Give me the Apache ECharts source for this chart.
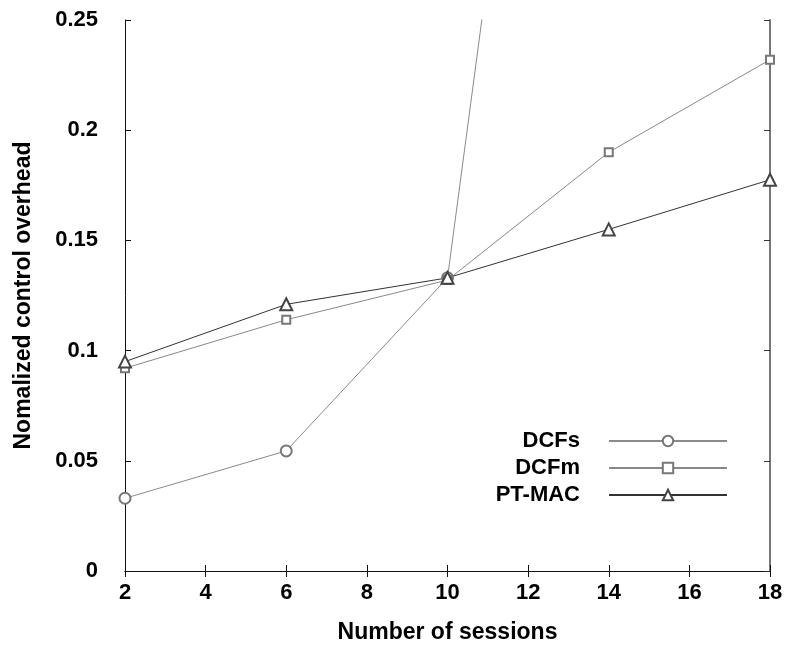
<!DOCTYPE html>
<html>
<head>
<meta charset="utf-8">
<script src="https://cdn.jsdelivr.net/npm/echarts@6/dist/echarts.min.js"></script>
<style>
html,body{margin:0;padding:0;background:#fff;}
#chart{width:790px;height:649px;}
</style>
</head>
<body>
<div id="chart"></div>
<script>
var sessions = [2, 6, 10, 14, 18];
var dcfs = [0.033, 0.0545, 0.133, 0.683, 1.23];
var dcfm = [0.092, 0.114, 0.132, 0.190, 0.232];
var ptmac = [0.095, 0.121, 0.133, 0.155, 0.1775];
var seriesNames = ['DCFs', 'DCFm', 'PT-MAC'];
var xTicks = [2, 4, 6, 8, 10, 12, 14, 16, 18];
var yTicks = [0, 0.05, 0.1, 0.15, 0.2, 0.25];

function pairs(ys) { return sessions.map(function (x, i) { return [x, ys[i]]; }); }

var font = 'Liberation Sans, Arial, Helvetica, sans-serif';
var chart = echarts.init(document.getElementById('chart'));
chart.setOption({
  animation: false,
  backgroundColor: '#fff',
  grid: { left: 125, right: 20, top: 20, bottom: 78, show: false },
  legend: {
    orient: 'vertical',
    align: 'right',
    right: 57,
    top: 425,
    itemWidth: 118,
    itemHeight: 13,
    itemGap: 5,
    data: seriesNames,
    textStyle: { fontFamily: font, fontWeight: 'bold', fontSize: 22, color: '#000', padding: [0, 24, 0, 0] }
  },
  xAxis: [{
    type: 'value', min: xTicks[0], max: xTicks[xTicks.length - 1], interval: 2,
    name: 'Number of sessions', nameLocation: 'middle', nameGap: 50,
    nameTextStyle: { fontFamily: font, fontWeight: 'bold', fontSize: 23, color: '#000' },
    axisLine: { show: true, lineStyle: { color: '#111', width: 1 } },
    axisTick: { show: true, inside: true, length: 6, lineStyle: { color: '#111' } },
    axisLabel: { fontFamily: font, fontWeight: 'bold', fontSize: 22, color: '#000', margin: 11 },
    splitLine: { show: false }
  }, {
    type: 'value', position: 'top', min: xTicks[0], max: xTicks[xTicks.length - 1], interval: 2,
    axisLine: { show: true, lineStyle: { color: '#111', width: 1 } },
    axisTick: { show: true, inside: true, length: 6, lineStyle: { color: '#111' } },
    axisLabel: { show: false }, splitLine: { show: false }
  }],
  yAxis: [{
    type: 'value', min: yTicks[0], max: yTicks[yTicks.length - 1], interval: 0.05,
    name: 'Nomalized control overhead', nameLocation: 'middle', nameGap: 90,
    nameTextStyle: { fontFamily: font, fontWeight: 'bold', fontSize: 23, color: '#000' },
    axisLine: { show: true, lineStyle: { color: '#111', width: 1 } },
    axisTick: { show: true, inside: true, length: 6, lineStyle: { color: '#111' } },
    axisLabel: { fontFamily: font, fontWeight: 'bold', fontSize: 22, color: '#000', margin: 27,
      formatter: function (v) { return String(+v.toFixed(2)); } },
    splitLine: { show: false }
  }, {
    type: 'value', position: 'right', min: yTicks[0], max: yTicks[yTicks.length - 1], interval: 0.05,
    axisLine: { show: true, lineStyle: { color: '#777', width: 2 } },
    axisTick: { show: true, inside: true, length: 6, lineStyle: { color: '#333' } },
    axisLabel: { show: false }, splitLine: { show: false }
  }],
  series: [{
    name: 'DCFs', type: 'line', data: pairs(dcfs), clip: true,
    symbol: 'emptyCircle', symbolSize: 11,
    lineStyle: { color: '#8a8a8a', width: 1 },
    itemStyle: { color: '#777', borderColor: '#777', borderWidth: 1 }
  }, {
    name: 'DCFm', type: 'line', data: pairs(dcfm), clip: true,
    symbol: 'emptyRect', symbolSize: 8,
    lineStyle: { color: '#888', width: 1 },
    itemStyle: { color: '#777', borderColor: '#777', borderWidth: 1 }
  }, {
    name: 'PT-MAC', type: 'line', data: pairs(ptmac), clip: true,
    symbol: 'emptyTriangle', symbolSize: 12,
    lineStyle: { color: '#333', width: 1 },
    itemStyle: { color: '#444', borderColor: '#444', borderWidth: 1 }
  }]
});
</script>
</body>
</html>
